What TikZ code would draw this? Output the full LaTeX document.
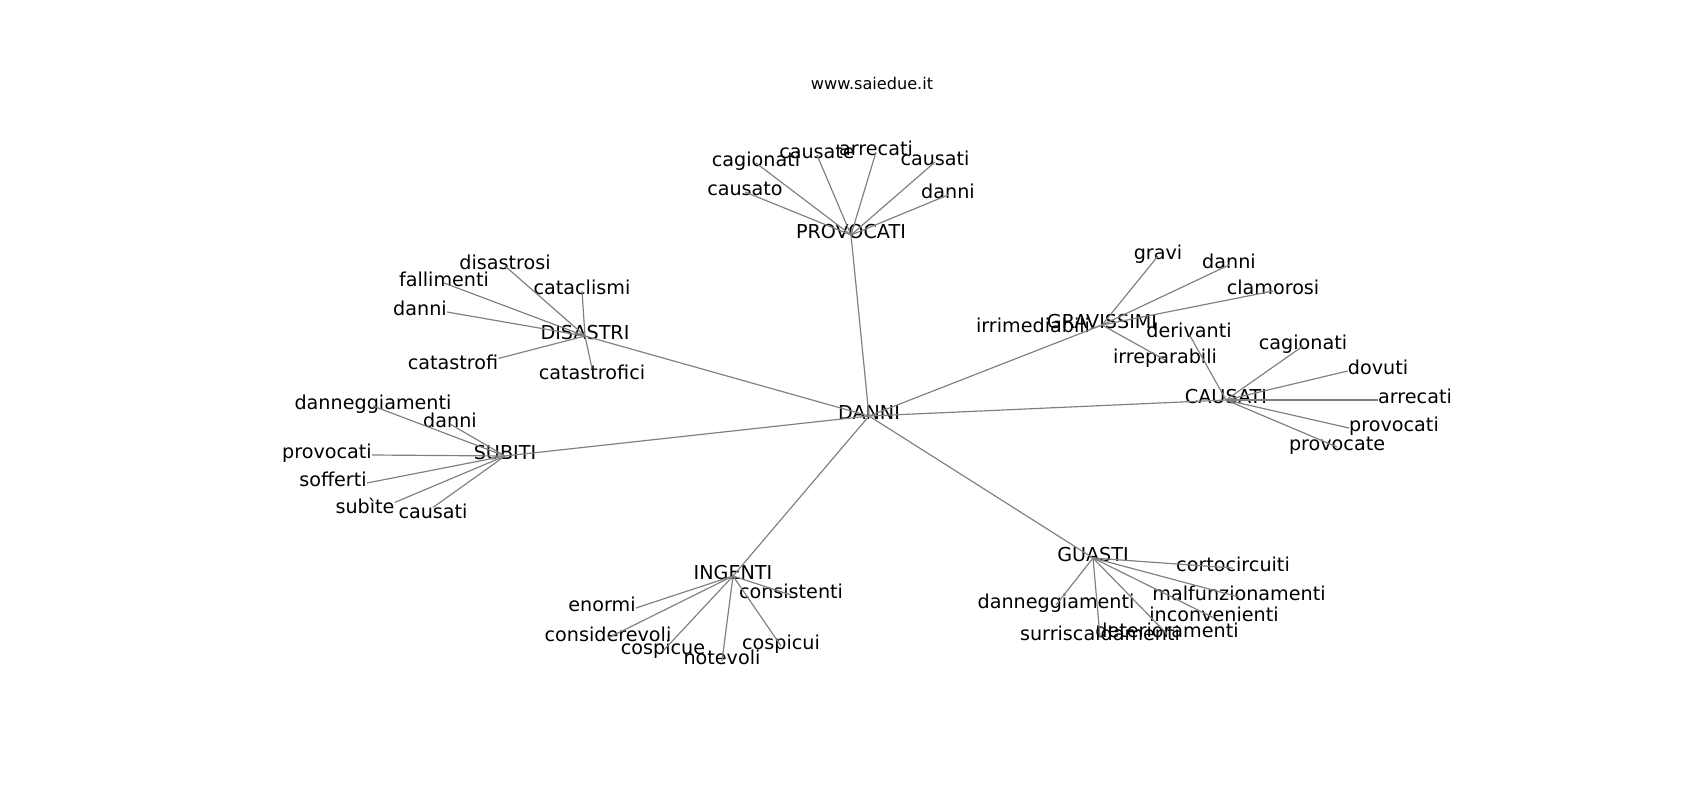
\documentclass[tikz,border=0pt]{standalone}
\usepackage{fontspec}
\setmainfont{DejaVu Sans}
\definecolor{edgegray}{RGB}{128,128,128}

\begin{document}
\begin{tikzpicture}[
    x=0.72pt, y=-0.72pt,
    term/.style={%
      font=\fontsize{13.8}{16}\selectfont,
      text height=0.75em,
      text depth=0.3em,
      inner sep=0pt,
    },
    link/.style={%
      draw=edgegray,
      line width=0.85pt,
    },
  ]
    \useasboundingbox (0,0) rectangle (1700,800);

    \node [font=\fontsize{11.6}{14}\selectfont] (title) at (872,83) {www.saiedue.it};

    \node [term] (danni) at (869,416) {DANNI};

    % PROVOCATI
    \node [term] (pv) at (851,235) {PROVOCATI};
    \node [term] (pv1) at (756,163) {cagionati};
    \node [term] (pv2) at (817,155) {causate};
    \node [term] (pv3) at (876,152) {arrecati};
    \node [term] (pv4) at (935,162) {causati};
    \node [term] (pv5) at (745,192) {causato};
    \node [term] (pv6) at (948,195) {danni};

    % DISASTRI
    \node [term] (ds) at (585,336) {DISASTRI};
    \node [term] (ds1) at (505,266) {disastrosi};
    \node [term] (ds2) at (444,283) {fallimenti};
    \node [term] (ds3) at (582,291) {cataclismi};
    \node [term] (ds4) at (420,312) {danni};
    \node [term] (ds5) at (453,366) {catastrofi};
    \node [term] (ds6) at (592,376) {catastrofici};

    % SUBITI
    \node [term] (sb) at (505,456) {SUBITI};
    \node [term] (sb1) at (373,406) {danneggiamenti};
    \node [term] (sb2) at (450,424) {danni};
    \node [term] (sb3) at (327,455) {provocati};
    \node [term] (sb4) at (333,483) {sofferti};
    \node [term] (sb5) at (365,510) {subìte};
    \node [term] (sb6) at (433,515) {causati};

    % GRAVISSIMI
    \node [term] (gr) at (1102,325) {GRAVISSIMI};
    \node [term] (gr1) at (1158,256) {gravi};
    \node [term] (gr2) at (1229,265) {danni};
    \node [term] (gr3) at (1273,291) {clamorosi};
    \node [term] (gr4) at (1033,329) {irrimediabili};
    \node [term] (gr5) at (1165,360) {irreparabili};

    % CAUSATI
    \node [term] (ca) at (1226,400) {CAUSATI};
    \node [term] (ca1) at (1189,334) {derivanti};
    \node [term] (ca2) at (1303,346) {cagionati};
    \node [term] (ca3) at (1378,371) {dovuti};
    \node [term] (ca4) at (1415,400) {arrecati};
    \node [term] (ca5) at (1394,428) {provocati};
    \node [term] (ca6) at (1337,447) {provocate};

    % GUASTI
    \node [term] (gu) at (1093,558) {GUASTI};
    \node [term] (gu1) at (1233,568) {cortocircuiti};
    \node [term] (gu2) at (1056,605) {danneggiamenti};
    \node [term] (gu3) at (1239,597) {malfunzionamenti};
    \node [term] (gu4) at (1214,618) {inconvenienti};
    \node [term] (gu5) at (1100,637) {surriscaldamenti};
    \node [term] (gu6) at (1167,634) {deterioramenti};

    % INGENTI
    \node [term] (ig) at (733,576) {INGENTI};
    \node [term] (ig1) at (602,608) {enormi};
    \node [term] (ig2) at (791,595) {consistenti};
    \node [term] (ig3) at (608,638) {considerevoli};
    \node [term] (ig4) at (663,651) {cospicue};
    \node [term] (ig5) at (722,661) {notevoli};
    \node [term] (ig6) at (781,646) {cospicui};

    \draw [link] (danni.center) -- (pv.center);
    \draw [link] (danni.center) -- (ds.center);
    \draw [link] (danni.center) -- (sb.center);
    \draw [link] (danni.center) -- (gr.center);
    \draw [link] (danni.center) -- (ca.center);
    \draw [link] (danni.center) -- (gu.center);
    \draw [link] (danni.center) -- (ig.center);

    \draw [link] (pv.center) -- (pv1.center);
    \draw [link] (pv.center) -- (pv2.center);
    \draw [link] (pv.center) -- (pv3.center);
    \draw [link] (pv.center) -- (pv4.center);
    \draw [link] (pv.center) -- (pv5.center);
    \draw [link] (pv.center) -- (pv6.center);

    \draw [link] (ds.center) -- (ds1.center);
    \draw [link] (ds.center) -- (ds2.center);
    \draw [link] (ds.center) -- (ds3.center);
    \draw [link] (ds.center) -- (ds4.east);
    \draw [link] (ds.center) -- (ds5.north east);
    \draw [link] (ds.center) -- (ds6.north);

    \draw [link] (sb.center) -- (sb1.center);
    \draw [link] (sb.center) -- (sb2.center);
    \draw [link] (sb.center) -- (sb3.east);
    \draw [link] (sb.center) -- (sb4.east);
    \draw [link] (sb.center) -- (sb5.north east);
    \draw [link] (sb.center) -- (sb6.north);

    \draw [link] (gr.center) -- (gr1.center);
    \draw [link] (gr.center) -- (gr2.center);
    \draw [link] (gr.center) -- (gr3.center);
    \draw [link] (gr.center) -- (gr4.east);
    \draw [link] (gr.center) -- (gr5.center);

    \draw [link] (ca.center) -- (ca1.center);
    \draw [link] (ca.center) -- (ca2.center);
    \draw [link] (ca.center) -- (ca3.west);
    \draw [link] (ca.center) -- (ca4.west);
    \draw [link] (ca.center) -- (ca5.west);
    \draw [link] (ca.center) -- (ca6.center);

    \draw [link] (gu.center) -- (gu1.center);
    \draw [link] (gu.center) -- (gu2.center);
    \draw [link] (gu.center) -- (gu3.center);
    \draw [link] (gu.center) -- (gu4.center);
    \draw [link] (gu.center) -- (gu5.center);
    \draw [link] (gu.center) -- (gu6.center);

    \draw [link] (ig.center) -- (ig1.east);
    \draw [link] (ig.center) -- (ig2.center);
    \draw [link] (ig.center) -- (ig3.center);
    \draw [link] (ig.center) -- (ig4.center);
    \draw [link] (ig.center) -- (ig5.center);
    \draw [link] (ig.center) -- (ig6.center);
\end{tikzpicture}
\end{document}
